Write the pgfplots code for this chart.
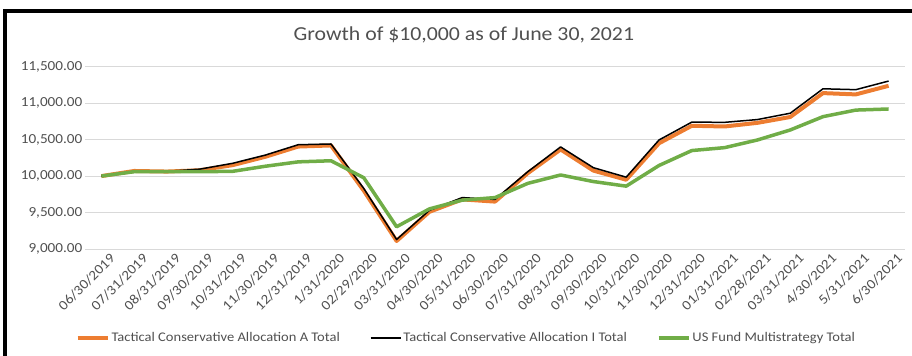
\documentclass[border=0pt]{standalone}
\usepackage{pgfplots}
\pgfplotsset{compat=1.18}
\usepackage{fontspec}
\setmainfont[FakeStretch=1.1]{Carlito}
\definecolor{gtext}{HTML}{505050}
\definecolor{ggrid}{HTML}{D9D9D9}
\definecolor{orng}{HTML}{ED7D31}
\definecolor{grn}{HTML}{70AD47}
\pgfplotstableread{
i A I US
0 10000 10000 10000
1 10070 10065 10060
2 10062 10065 10060
3 10080 10095 10060
4 10150 10175 10065
5 10265 10288 10135
6 10405 10430 10195
7 10420 10440 10210
8 9800 9830 9977
9 9110 9130 9305
10 9510 9530 9550
11 9680 9705 9670
12 9650 9680 9705
13 10040 10060 9900
14 10365 10400 10015
15 10075 10115 9925
16 9950 9985 9862
17 10450 10495 10145
18 10690 10740 10350
19 10680 10737 10390
20 10730 10775 10495
21 10810 10862 10632
22 11138 11197 10815
23 11120 11185 10905
24 11238 11303 10920
}\data
\begin{document}
\begin{tikzpicture}
\useasboundingbox (0bp,0bp) rectangle (912bp,356bp);
\draw[line width=3.5bp] (5bp,0bp) -- (5bp,345.2bp) -- (912bp,345.2bp);
\begin{axis}[
  at={(85bp,107bp)}, anchor=south west, scale only axis,
  width=820bp, height=182.3bp,
  xmin=-0.5, xmax=24.5, ymin=9000, ymax=11500,
  ytick={9000,9500,...,11500},
  xtick={0,...,24},
  xticklabels={06/30/2019,07/31/2019,08/31/2019,09/30/2019,10/31/2019,11/30/2019,12/31/2019,1/31/2020,02/29/2020,03/31/2020,04/30/2020,05/31/2020,06/30/2020,07/31/2020,08/31/2020,09/30/2020,10/31/2020,11/30/2020,12/31/2020,01/31/2021,02/28/2021,03/31/2021,4/30/2021,5/31/2021,6/30/2021},
  axis line style={draw=none},
  major tick length=0pt,
  ymajorgrids, grid style={ggrid, line width=1bp},
  /pgf/number format/assume math mode=true,
  y tick label style={/pgf/number format/fixed, /pgf/number format/fixed zerofill, /pgf/number format/precision=2, /pgf/number format/1000 sep={,}},
  scaled y ticks=false,
  ticklabel style={font=\fontsize{13.8bp}{15bp}\selectfont, text=gtext},
  yticklabel style={inner sep=0pt, xshift=-2.5bp},
  xticklabel style={rotate=45, anchor=east, inner sep=0pt, xshift=3bp, yshift=-13bp},
  title={Growth of \$10,000 as of June 30, 2021},
  title style={at={(0.462,1.141)}, anchor=center, font=\fontsize{19.8bp}{21bp}\selectfont, text=gtext},
  legend style={at={(0.465,-0.488)}, anchor=center, draw=none, fill=none,
    font=\fontsize{13.2bp}{15bp}\selectfont, text=gtext,
    /tikz/every even column/.append style={column sep=28bp}},
  legend columns=3,
  legend image code/.code={\draw[#1] (0bp,0bp) -- (30bp,0bp);},
]
\addplot[orng, line width=4bp, line join=round] table[x=i, y=A] {\data};
\addlegendentry{Tactical Conservative Allocation A Total}
\addplot[black, line width=1.5bp, line join=round] table[x=i, y=I] {\data};
\addlegendentry{Tactical Conservative Allocation I Total}
\addplot[grn, line width=3.5bp, line join=round] table[x=i, y=US] {\data};
\addlegendentry{US Fund Multistrategy Total}
\end{axis}
\end{tikzpicture}
\end{document}
